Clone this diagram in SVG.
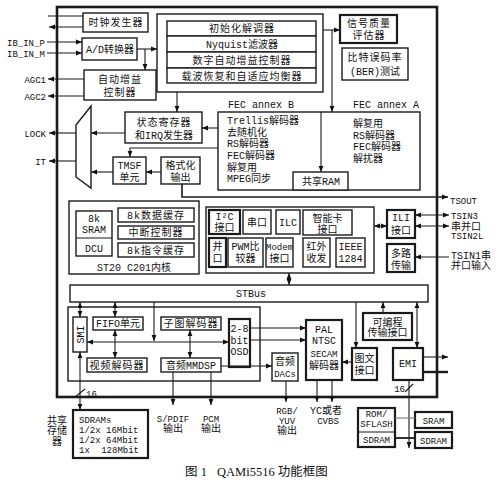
<svg xmlns="http://www.w3.org/2000/svg" width="500" height="484" viewBox="0 0 500 484">
<style>
.b{fill:#fff;stroke:#1a1a1a;stroke-width:1.4}
.k{stroke-width:2.2}
.n{fill:none;stroke:#1a1a1a}
.l{fill:none;stroke:#1a1a1a;stroke-width:1.1}
.w{stroke-width:2.4}
text{font-family:"Liberation Mono","Noto Sans CJK SC",monospace;font-size:10px;fill:#111}
.m{text-anchor:middle}
.e{text-anchor:end}
.s{letter-spacing:1px}
.sm{font-size:9px}
.cap{font-family:"Liberation Serif","Noto Sans CJK SC",serif;font-size:12.5px}
</style>
<defs>
<marker id="a" viewBox="0 0 10 10" refX="10" refY="5" markerWidth="6" markerHeight="6" markerUnits="userSpaceOnUse" orient="auto-start-reverse"><path d="M0,1L10,5L0,9z" fill="#111"/></marker>
</defs>
<rect width="500" height="484" fill="#fff"/>

<g id="chip"><rect x="57" y="7" width="380" height="390" class="n" stroke-width="2.6"/></g>

<g id="clock"><rect class="b" x="83" y="13" width="65" height="19"/><text class="m s" x="116" y="26">时钟发生器</text></g>
<g id="adc"><rect class="b" x="82" y="38" width="55" height="22"/><text class="m" x="110" y="53">A/D转换器</text></g>
<g id="agc"><rect class="b" x="84" y="70" width="72" height="30"/><text class="m s" x="120" y="83">自动增益</text><text class="m s" x="120" y="96">控制器</text></g>

<g id="demod">
<rect class="b" x="157" y="14" width="166" height="78"/>
<rect class="b" x="167" y="21" width="149" height="15"/>
<rect class="b" x="167" y="36" width="149" height="16"/>
<rect class="b" x="167" y="52" width="149" height="16"/>
<rect class="b" x="167" y="68" width="149" height="15"/>
<text class="m s" x="242" y="32">初始化解调器</text>
<text class="m" x="242" y="48">Nyquist滤波器</text>
<text class="m s" x="242" y="64">数字自动增益控制器</text>
<text class="m s" x="242" y="79.5">载波恢复和自适应均衡器</text>
</g>

<g id="sigq"><rect class="b k" x="340" y="15" width="57" height="28"/><text class="m s" x="369" y="27">信号质量</text><text class="m s" x="369" y="39">评估器</text></g>
<g id="ber"><rect class="b" x="342" y="48" width="66" height="32"/><text class="m s" x="375" y="61">比特误码率</text><text class="m" x="375" y="75">(BER)测试</text></g>

<g id="fec">
<text x="228" y="108">FEC annex B</text>
<text x="353" y="108">FEC annex A</text>
<rect class="b" x="218" y="112" width="202" height="78"/>
<text x="227" y="123.5">Trellis解码器</text>
<text x="227" y="135.5">去随机化</text>
<text x="227" y="147">RS解码器</text>
<text x="227" y="158.5">FEC解码器</text>
<text x="227" y="170.5">解复用</text>
<text x="227" y="182">MPEG同步</text>
<text x="353" y="126.5">解复用</text>
<text x="353" y="138.5">RS解码器</text>
<text x="353" y="149.5">FEC解码器</text>
<text x="353" y="161.5">解扰器</text>
</g>
<g id="ram"><rect class="b" x="293" y="172" width="55" height="18"/><text class="m" x="321" y="185">共享RAM</text></g>

<g id="status"><rect class="b" x="125" y="112" width="77" height="31"/><text class="m s" x="164" y="125.5">状态寄存器</text><text class="m" x="164" y="138.5">和IRQ发生器</text></g>
<g id="mux"><polygon class="b" points="91,106 91,188 76,177 76,125"/></g>
<g id="tmsf"><rect class="b" x="113" y="157" width="33" height="27"/><text class="m" x="129.5" y="168.5">TMSF</text><text class="m" x="129.5" y="181">单元</text></g>
<g id="fmt"><rect class="b" x="161" y="157" width="39" height="27"/><text class="m" x="180.5" y="168.5">格式化</text><text class="m" x="180.5" y="181">输出</text></g>

<g id="st20">
<rect class="b" x="69" y="201" width="130" height="73"/>
<rect class="b" x="76" y="211" width="36" height="45"/>
<line class="l" x1="76" y1="238" x2="112" y2="238"/>
<text class="m" x="94" y="222">8k</text><text class="m" x="94" y="233">SRAM</text><text class="m" x="94" y="251.5">DCU</text>
<rect class="b" x="118" y="208" width="76" height="14"/><text class="m s" x="156" y="218.5">8k数据缓存</text>
<rect class="b" x="118" y="226" width="76" height="13"/><text class="m s" x="156" y="236">中断控制器</text>
<rect class="b" x="118" y="243" width="76" height="14"/><text class="m s" x="156" y="253.5">8k指令缓存</text>
<text class="m" x="134" y="270.5">ST20 C201内核</text>
</g>

<g id="periph">
<rect class="b" x="206" y="207" width="168" height="66"/>
<rect class="b k" x="209" y="210" width="31" height="24"/><text class="m" x="224.5" y="219.5">I²C</text><text class="m" x="224.5" y="231">接口</text>
<rect class="b" x="243" y="210" width="28" height="24"/><text class="m" x="257" y="225.5">串口</text>
<rect class="b" x="276" y="210" width="24" height="24"/><text class="m" x="288" y="225.5">ILC</text>
<rect class="b" x="303" y="210" width="49" height="25"/><text class="m" x="327.5" y="221.5">智能卡</text><text class="m" x="327.5" y="232.5">接口</text>
<rect class="b k" x="209" y="238" width="17" height="29"/><text class="m" x="217.5" y="250">并</text><text class="m" x="217.5" y="261.5">口</text>
<rect class="b" x="228" y="238" width="35" height="29"/><text class="m" x="245.5" y="250">PWM比</text><text class="m" x="245.5" y="261.5">较器</text>
<rect class="b" x="266" y="238" width="27" height="29"/><text class="m sm" x="279.5" y="250">Modem</text><text class="m" x="279.5" y="261.5">接口</text>
<rect class="b" x="303" y="238" width="27" height="29"/><text class="m" x="316.5" y="250">红外</text><text class="m" x="316.5" y="261.5">收发</text>
<rect class="b" x="336" y="238" width="29" height="29"/><text class="m" x="350.5" y="250">IEEE</text><text class="m" x="350.5" y="261.5">1284</text>
</g>

<g id="ili"><rect class="b k" x="387" y="210" width="28" height="28"/><text class="m" x="401" y="221">ILI</text><text class="m" x="401" y="233.5">接口</text></g>
<g id="demux"><rect class="b k" x="387" y="244" width="28" height="28"/><text class="m" x="401" y="256.5">多路</text><text class="m" x="401" y="268.5">传输</text></g>

<g id="stbus"><rect class="b" x="70" y="285" width="358" height="17"/><text class="m" x="251" y="297">STBus</text></g>

<g id="av">
<rect class="b" x="68" y="307" width="192" height="74"/>
</g>
<g id="smi"><rect class="b" x="73" y="317" width="14" height="35"/><text class="m" transform="translate(80,334.5) rotate(-90)" y="3.5">SMI</text></g>
<g id="fifo"><rect class="b" x="93" y="317" width="50" height="13"/><text class="m" x="118" y="327">FIFO单元</text></g>
<g id="vdec"><rect class="b" x="87" y="358" width="60" height="14"/><text class="m s" x="117" y="368.5">视频解码器</text></g>
<g id="spdec"><rect class="b" x="161" y="317" width="60" height="13"/><text class="m s" x="191" y="327">子图解码器</text></g>
<g id="mmdsp"><rect class="b" x="161" y="358" width="60" height="14"/><text class="m" x="191" y="368.5">音频MMDSP</text></g>
<g id="osd"><rect class="b k" x="229" y="319" width="21" height="48"/><text class="m" x="239.5" y="331.5">2-8</text><text class="m" x="239.5" y="343.5">bit</text><text class="m" x="239.5" y="355">OSD</text></g>
<g id="dacs"><rect class="b" x="272" y="353" width="26" height="28"/><text class="m" x="285" y="364.5">音频</text><text class="m sm" x="285" y="376.5">DACs</text></g>
<g id="pal"><rect class="b k" x="306" y="320" width="36" height="60"/><text class="m" x="324" y="332.5">PAL</text><text class="m" x="324" y="343.5">NTSC</text><text class="m sm" x="324" y="356.5">SECAM</text><text class="m" x="324" y="368.5">解码器</text></g>
<g id="ttx"><rect class="b k" x="352" y="348" width="25" height="32"/><text class="m" x="364.5" y="361.5">图文</text><text class="m" x="364.5" y="373.5">接口</text></g>
<g id="prog"><rect class="b k" x="363" y="313" width="49" height="27"/><text class="m" x="387.5" y="325.5">可编程</text><text class="m" x="387.5" y="336">传输接口</text></g>
<g id="emi"><rect class="b k" x="393" y="348" width="30" height="32"/><text class="m" x="408" y="367">EMI</text></g>

<g id="sdrams"><rect class="b k" x="73" y="410" width="75" height="48"/>
<text class="sm" x="79" y="422.5">SDRAMs</text>
<text class="sm" x="79" y="432.5">1/2x 16Mbit</text>
<text class="sm" x="79" y="442.5">1/2x 64Mbit</text>
<text class="sm" x="79" y="452.5">1x</text><text class="sm e" x="139" y="452.5">128Mbit</text>
</g>
<g id="rom"><rect class="b k" x="358" y="408" width="37" height="39"/><line class="l" x1="358" y1="432" x2="395" y2="432" stroke-width="1.6"/>
<text class="m sm" x="376.5" y="417">ROM/</text><text class="m sm" x="376.5" y="427">SFLASH</text><text class="m sm" x="376.5" y="442.5">SDRAM</text></g>
<g id="sram"><rect class="b k" x="415" y="412" width="37" height="16"/><text class="m sm" x="433.5" y="423.5">SRAM</text></g>
<g id="sdram2"><rect class="b k" x="415" y="432" width="37" height="16"/><text class="m sm" x="433.5" y="443.5">SDRAM</text></g>

<g id="labels">
<text class="sm" x="7" y="45.5">IB_IN_P</text>
<text class="sm" x="7" y="56.5">IB_IN_M</text>
<text class="sm e" x="46" y="82.5">AGC1</text>
<text class="sm e" x="46" y="99.5">AGC2</text>
<text class="sm e" x="46" y="136.5">LOCK</text>
<text class="sm e" x="46" y="164.5">IT</text>
<text class="sm" x="450" y="203.5">TSOUT</text>
<text class="sm" x="451" y="219">TSIN3</text>
<text x="451" y="229.5">串并口</text>
<text class="sm" x="451" y="239">TSIN2L</text>
<text x="451" y="258.5">TSIN1串</text>
<text x="451" y="269">并口输入</text>
<text class="m" x="57" y="423.5">共享</text>
<text class="m" x="57" y="434">存储</text>
<text class="m" x="57" y="444.5">器</text>
<text class="m sm" x="173" y="421.5">S/PDIF</text>
<text class="m" x="173" y="432">输出</text>
<text class="m sm" x="211" y="421.5">PCM</text>
<text class="m" x="211" y="432">输出</text>
<text class="m sm" x="287" y="413.5">RGB/</text>
<text class="m sm" x="287" y="423.5">YUV</text>
<text class="m" x="287" y="434">输出</text>
<text class="m" x="326" y="413.5">YC或者</text>
<text class="m sm" x="328" y="423.5">CVBS</text>
<text class="sm" x="86" y="397">16</text>
<text class="sm e" x="405" y="392">16</text>
<text class="cap" x="185" y="476">图 1</text>
<text class="cap" x="217" y="476">QAMi5516 功能框图</text>
</g>

<g id="connectors" class="l">
<path d="M48,16H83"/>
<path d="M83,27H49" marker-end="url(#a)"/>
<path d="M47,42H82" marker-end="url(#a)"/>
<path d="M47,53H82" marker-end="url(#a)"/>
<path d="M137,49H157" marker-end="url(#a)"/>
<path d="M145,49V70" marker-end="url(#a)"/>
<path d="M84,79H48" marker-end="url(#a)"/>
<path d="M84,96H48" marker-end="url(#a)"/>
<path d="M323,30H340" marker-end="url(#a)"/>
<path d="M332,30V112" marker-end="url(#a)"/>
<path d="M177,92V112" marker-end="url(#a)"/>
<path d="M218,128H202" marker-end="url(#a)"/>
<path d="M125,133H91" marker-end="url(#a)"/>
<path d="M113,172H91" marker-end="url(#a)"/>
<path d="M161,172H146" marker-end="url(#a)"/>
<path d="M218,148H130V157" marker-end="url(#a)"/>
<path d="M321,112V172" marker-end="url(#a)"/>
<path d="M182,184V197H448" marker-end="url(#a)" stroke-width="1.6"/>
<path d="M76,133H49" marker-end="url(#a)"/>
<path d="M76,161H49" marker-end="url(#a)"/>
<path d="M374,226H387" marker-start="url(#a)" marker-end="url(#a)"/>
<path d="M415,215H449" marker-start="url(#a)" marker-end="url(#a)"/>
<path d="M415,226H449" marker-start="url(#a)" marker-end="url(#a)"/>
<path d="M449,257H415" marker-end="url(#a)"/>
<path d="M289,273V285" marker-start="url(#a)" marker-end="url(#a)"/>
<path d="M80,302V317" marker-start="url(#a)" marker-end="url(#a)"/>
<path d="M115,302V317" marker-start="url(#a)" marker-end="url(#a)"/>
<path d="M154,302V341" marker-end="url(#a)"/>
<path d="M87,342H229" marker-start="url(#a)" marker-end="url(#a)"/>
<path d="M115,330V358" marker-start="url(#a)" marker-end="url(#a)"/>
<path d="M190,330V358" marker-start="url(#a)" marker-end="url(#a)"/>
<path d="M221,366H272" marker-end="url(#a)"/>
<path d="M250,328H306" marker-end="url(#a)"/>
<path d="M250,340H306" marker-end="url(#a)"/>
<path d="M352,362H342" marker-end="url(#a)"/>
<path d="M356,302V348" marker-end="url(#a)"/>
<path d="M383,313V302" marker-end="url(#a)"/>
<path d="M417,302V348" marker-start="url(#a)" marker-end="url(#a)"/>
<path d="M423,357H448" marker-end="url(#a)"/>
<path d="M423,372H448" class="w"/>
<path d="M409,380V448" marker-end="url(#a)"/>
<path d="M405,392L413,384"/>
<path d="M80,352V410" marker-start="url(#a)" marker-end="url(#a)"/>
<path d="M75,397L85,389"/>
<path d="M173,372V405" marker-end="url(#a)"/>
<path d="M211,372V405" marker-end="url(#a)"/>
<path d="M286,381V402" marker-end="url(#a)"/>
<path d="M317,380V402" marker-end="url(#a)"/>
<path d="M332,380V402" marker-end="url(#a)"/>
<path d="M395,418H415" stroke="#777"/>
<path d="M395,438H415" stroke-width="1.8"/>
</g>
</svg>
